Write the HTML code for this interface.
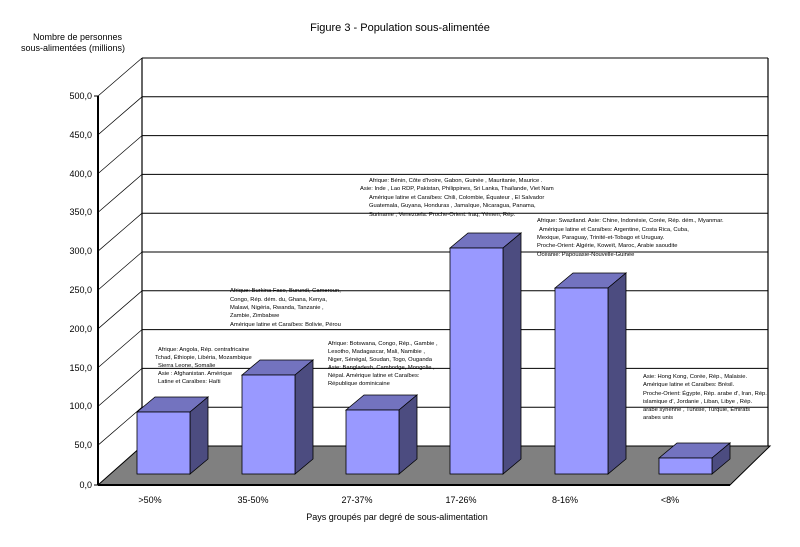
<!DOCTYPE html>
<html><head><meta charset="utf-8"><style>
body{margin:0;background:#fff}
svg{display:block;font-family:"Liberation Sans",sans-serif}
.a{font-size:5.8px}
.t{font-size:9px}
</style></head><body>
<svg width="800" height="547" viewBox="0 0 800 547">
<rect width="800" height="547" fill="#fff"/>
<text x="400" y="31" text-anchor="middle" font-size="11">Figure 3 - Population sous-alimentée</text>
<text x="33" y="40" class="t">Nombre de personnes</text>
<text x="21" y="51" class="t">sous-alimentées (millions)</text>
<!-- floor -->
<polygon points="98,485 730,485 770,446 142,446" fill="#808080" stroke="#000"/>
<!-- back wall -->
<g stroke="#000" stroke-width="1.2" fill="none">
<line x1="142" y1="58" x2="142" y2="446"/>
<line x1="768" y1="58" x2="768" y2="446"/>
</g>
<g stroke="#000" stroke-width="1">
<line x1="142" y1="58" x2="768" y2="58"/>
<line x1="142" y1="96.8" x2="768" y2="96.8"/>
<line x1="142" y1="135.6" x2="768" y2="135.6"/>
<line x1="142" y1="174.4" x2="768" y2="174.4"/>
<line x1="142" y1="213.2" x2="768" y2="213.2"/>
<line x1="142" y1="252" x2="768" y2="252"/>
<line x1="142" y1="290.8" x2="768" y2="290.8"/>
<line x1="142" y1="329.6" x2="768" y2="329.6"/>
<line x1="142" y1="368.4" x2="768" y2="368.4"/>
<line x1="142" y1="407.2" x2="768" y2="407.2"/>
</g>
<g stroke="#000" stroke-width="0.7">
<line x1="98" y1="96" x2="142" y2="58"/>
<line x1="98" y1="134.8" x2="142" y2="96.8"/>
<line x1="98" y1="173.6" x2="142" y2="135.6"/>
<line x1="98" y1="212.4" x2="142" y2="174.4"/>
<line x1="98" y1="251.2" x2="142" y2="213.2"/>
<line x1="98" y1="290" x2="142" y2="252"/>
<line x1="98" y1="328.8" x2="142" y2="290.8"/>
<line x1="98" y1="367.6" x2="142" y2="329.6"/>
<line x1="98" y1="406.4" x2="142" y2="368.4"/>
<line x1="98" y1="445.2" x2="142" y2="407.2"/>
</g>
<!-- y axis -->
<line x1="98" y1="96" x2="98" y2="485" stroke="#000" stroke-width="2"/>
<line x1="98" y1="485" x2="730" y2="485" stroke="#000" stroke-width="2"/>
<g font-size="9" text-anchor="end">
<text x="92" y="99">500,0</text><text x="92" y="138">450,0</text><text x="92" y="177">400,0</text>
<text x="92" y="215">350,0</text><text x="92" y="254">300,0</text><text x="92" y="293">250,0</text>
<text x="92" y="332">200,0</text><text x="92" y="371">150,0</text><text x="92" y="409">100,0</text>
<text x="92" y="448">50,0</text><text x="92" y="488">0,0</text>
</g>
<g stroke="#000" stroke-width="1"><line x1="94" y1="96" x2="98" y2="96"/><line x1="94" y1="485" x2="98" y2="485"/></g>
<!-- bars -->
<g stroke="#000" stroke-width="0.8">
<polygon points="137,412 155,397 208,397 190,412" fill="#7373BF"/><polygon points="190,412 208,397 208,459 190,474" fill="#4C4C80"/><rect x="137" y="412" width="53" height="62" fill="#9999FF"/>
<polygon points="242,375 260,360 313,360 295,375" fill="#7373BF"/><polygon points="295,375 313,360 313,459 295,474" fill="#4C4C80"/><rect x="242" y="375" width="53" height="99" fill="#9999FF"/>
<polygon points="346,410 364,395 417,395 399,410" fill="#7373BF"/><polygon points="399,410 417,395 417,459 399,474" fill="#4C4C80"/><rect x="346" y="410" width="53" height="64" fill="#9999FF"/>
<polygon points="450,248 468,233 521,233 503,248" fill="#7373BF"/><polygon points="503,248 521,233 521,459 503,474" fill="#4C4C80"/><rect x="450" y="248" width="53" height="226" fill="#9999FF"/>
<polygon points="555,288 573,273 626,273 608,288" fill="#7373BF"/><polygon points="608,288 626,273 626,459 608,474" fill="#4C4C80"/><rect x="555" y="288" width="53" height="186" fill="#9999FF"/>
<polygon points="659,458 677,443 730,443 712,458" fill="#7373BF"/><polygon points="712,458 730,443 730,459 712,474" fill="#4C4C80"/><rect x="659" y="458" width="53" height="16" fill="#9999FF"/>
</g>
<!-- category labels -->
<g font-size="9" text-anchor="middle">
<text x="150" y="503">&gt;50%</text><text x="253" y="503">35-50%</text><text x="357" y="503">27-37%</text>
<text x="461" y="503">17-26%</text><text x="565" y="503">8-16%</text><text x="670" y="503">&lt;8%</text>
</g>
<text x="397" y="520" text-anchor="middle" font-size="9">Pays groupés par degré de sous-alimentation</text>
<!-- annotations -->
<g class="a">
<text x="158" y="351">Afrique: Angola, Rép. centrafricaine</text>
<text x="155" y="359">Tchad, Éthiopie, Libéria, Mozambique</text>
<text x="158" y="367">Sierra Leone, Somalie</text>
<text x="158" y="375">Asie : Afghanistan. Amérique</text>
<text x="158" y="383">Latine et Caraïbes: Haïti</text>

<text x="230" y="292">Afrique: Burkina Faso, Burundi, Cameroun,</text>
<text x="230" y="301">Congo, Rép. dém. du, Ghana, Kenya,</text>
<text x="230" y="309">Malawi, Nigéria, Rwanda, Tanzanie ,</text>
<text x="230" y="317">Zambie, Zimbabwe</text>
<text x="230" y="326">Amérique latine et Caraïbes: Bolivie, Pérou</text>

<text x="328" y="345">Afrique: Botswana, Congo, Rép., Gambie ,</text>
<text x="328" y="353">Lesotho, Madagascar, Mali, Namibie ,</text>
<text x="328" y="361">Niger, Sénégal, Soudan, Togo, Ouganda</text>
<text x="328" y="369">Asie: Bangladesh, Cambodge, Mongolie ,</text>
<text x="328" y="377">Népal. Amérique latine et Caraïbes:</text>
<text x="328" y="385">République dominicaine</text>

<text x="369" y="182">Afrique: Bénin, Côte d'Ivoire, Gabon, Guinée , Mauritanie, Maurice .</text>
<text x="360" y="190">Asie: Inde , Lao RDP, Pakistan, Philippines, Sri Lanka, Thaïlande, Viet Nam</text>
<text x="369" y="199">Amérique latine et Caraïbes: Chili, Colombie, Équateur , El Salvador</text>
<text x="369" y="207">Guatemala, Guyana, Honduras , Jamaïque, Nicaragua, Panama,</text>
<text x="369" y="216">Suriname , Venezuela. Proche-Orient: Iraq, Yémen, Rép.</text>

<text x="537" y="222">Afrique: Swaziland. Asie: Chine, Indonésie, Corée, Rép. dém., Myanmar.</text>
<text x="539" y="231">Amérique latine et Caraïbes: Argentine, Costa Rica, Cuba,</text>
<text x="537" y="239">Mexique, Paraguay, Trinité-et-Tobago et Uruguay.</text>
<text x="537" y="247">Proche-Orient: Algérie, Koweït, Maroc, Arabie saoudite</text>
<text x="537" y="256">Océanie: Papouasie-Nouvelle-Guinée</text>

<text x="643" y="378">Asie: Hong Kong, Corée, Rép., Malaisie.</text>
<text x="643" y="386">Amérique latine et Caraïbes: Brésil.</text>
<text x="643" y="395">Proche-Orient: Égypte, Rép. arabe d', Iran, Rép.</text>
<text x="643" y="403">islamique d', Jordanie , Liban, Libye , Rép.</text>
<text x="643" y="411">arabe syrienne , Tunisie, Turquie, Émirats</text>
<text x="643" y="419">arabes unis</text>
</g>
</svg>
</body></html>
